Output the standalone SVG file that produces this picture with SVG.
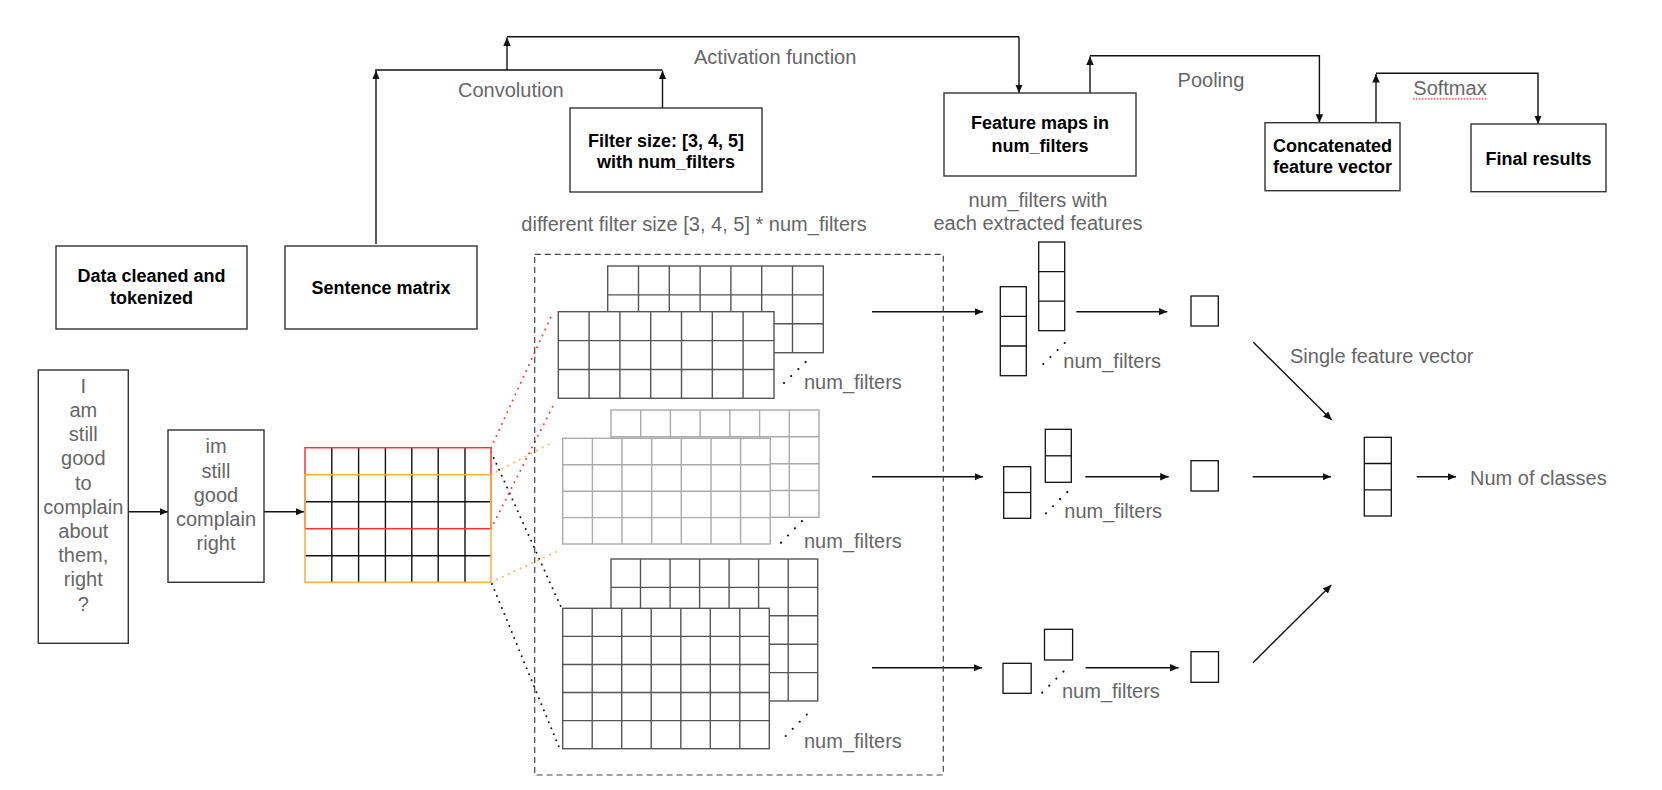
<svg xmlns="http://www.w3.org/2000/svg" width="1662" height="790" viewBox="0 0 1662 790">
<defs>
<marker id="ah" markerWidth="9" markerHeight="8" refX="8.5" refY="3.75" orient="auto" markerUnits="userSpaceOnUse">
<path d="M0,0 L8.5,3.75 L0,7.5 z" fill="#111"/>
</marker>
<style>
.box{fill:#fff;stroke:#333;stroke-width:1.4}
.b{font-family:"Liberation Sans",Arial,Helvetica,sans-serif;font-size:18px;font-weight:bold;fill:#000;text-anchor:middle}
.g{font-family:"Liberation Sans",Arial,Helvetica,sans-serif;font-size:20px;fill:#666}
.gm{font-family:"Liberation Sans",Arial,Helvetica,sans-serif;font-size:20px;fill:#666;text-anchor:middle}
.c{fill:none;stroke:#111;stroke-width:1.4}
.ca{fill:none;stroke:#111;stroke-width:1.4;marker-end:url(#ah)}
.cell{fill:#fff;stroke:#111;stroke-width:1.3}
.gd{fill:#fff;stroke:#555;stroke-width:1.4}
.gl{fill:#fff;stroke:#aaa;stroke-width:1.4}
.dots{fill:none;stroke:#111;stroke-width:2.2;stroke-linecap:round;stroke-dasharray:0 10}
.dr{fill:none;stroke:#f33;stroke-width:2;stroke-linecap:round;stroke-dasharray:0 6.5}
.do{fill:none;stroke:#fbb040;stroke-width:2;stroke-linecap:round;stroke-dasharray:0 6.5}
.dk{fill:none;stroke:#111;stroke-width:2;stroke-linecap:round;stroke-dasharray:0 6.5}
</style>
</defs>
<rect width="1662" height="790" fill="#fff"/>

<g id="connectors">
<!-- convolution -->
<path class="c" d="M375,70 H662.5"/>
<path class="ca" d="M376,244 V70.7"/>
<path class="ca" d="M662.5,108 V70.7"/>
<!-- activation -->
<path class="c" d="M507,36.7 H1019"/>
<path class="ca" d="M507,70 V37.4"/>
<path class="ca" d="M1019,36.7 V93"/>
<!-- pooling -->
<path class="ca" d="M1090,93 V56.4"/>
<path class="ca" d="M1090,55.7 H1319.4 V122.7"/>
<!-- softmax -->
<path class="ca" d="M1376,122.7 V74"/>
<path class="ca" d="M1376,73.3 H1538 V124"/>
<!-- input arrows -->
<path class="ca" d="M128.6,511.7 H168"/>
<path class="ca" d="M264,511.7 H304"/>
<!-- filter to feature maps -->
<path class="ca" d="M872,311.7 H983"/>
<path class="ca" d="M872,476.7 H983"/>
<path class="ca" d="M872,667.7 H982"/>
<!-- pooling arrows -->
<path class="ca" d="M1076.3,311.7 H1167.3"/>
<path class="ca" d="M1085.3,476.7 H1168.7"/>
<path class="ca" d="M1085.5,667.7 H1178.5"/>
<!-- to concat vector -->
<path class="ca" d="M1253.3,342.3 L1331.7,420"/>
<path class="ca" d="M1252.7,476.7 H1331"/>
<path class="ca" d="M1253,662.7 L1331.3,585"/>
<path class="ca" d="M1416.7,476.7 H1456"/>
<!-- dotted projections -->
<path class="dk" d="M491,452 L561,607"/>
<path class="dk" d="M492,584 L559,747"/>
<path class="dr" d="M491,447.7 L553,312.5"/>
<path class="dr" d="M491,528.7 L554,404"/>
<path class="do" d="M491,474.7 L554,441.5"/>
<path class="do" d="M491,582.3 L556,552"/>
</g>

<g id="labels">
<text class="g" x="458" y="97">Convolution</text>
<text class="g" x="694" y="64">Activation function</text>
<text class="g" x="1177.6" y="86.7">Pooling</text>
<text class="g" x="1413.3" y="95">Softmax</text>
<path d="M1413,98.8 H1488" fill="none" stroke="#f33" stroke-width="1.2" stroke-dasharray="1.5 1.5"/>
<text class="gm" x="694" y="230.7">different filter size [3, 4, 5] * num_filters</text>
<text class="gm" x="1038" y="206.7">num_filters with</text>
<text class="gm" x="1038" y="230">each extracted features</text>
<text class="g" x="1290" y="363.3">Single feature vector</text>
<text class="g" x="1470" y="485">Num of classes</text>
</g>

<g id="node-data-cleaned">
<rect class="box" x="56" y="246" width="191" height="83"/>
<text class="b" x="151.5" y="282">Data cleaned and</text>
<text class="b" x="151.5" y="304">tokenized</text>
</g>
<g id="node-sentence-matrix">
<rect class="box" x="285" y="246" width="192" height="83"/>
<text class="b" x="381" y="294.3">Sentence matrix</text>
</g>
<g id="node-filter-size">
<rect class="box" x="570" y="108" width="192" height="84"/>
<text class="b" x="666" y="146.7">Filter size: [3, 4, 5]</text>
<text class="b" x="666" y="168.3">with num_filters</text>
</g>
<g id="node-feature-maps">
<rect class="box" x="944" y="93" width="192" height="83"/>
<text class="b" x="1040" y="129.3">Feature maps in</text>
<text class="b" x="1040" y="151.7">num_filters</text>
</g>
<g id="node-concatenated">
<rect class="box" x="1265" y="122.7" width="135" height="68"/>
<text class="b" x="1332.5" y="151.7">Concatenated</text>
<text class="b" x="1332.5" y="173.3">feature vector</text>
</g>
<g id="node-final-results">
<rect class="box" x="1471" y="124" width="135" height="67.7"/>
<text class="b" x="1538.5" y="165">Final results</text>
</g>

<g id="node-raw-sentence">
<rect class="box" x="38.3" y="370" width="90" height="273.3"/>
<g class="gm">
<text x="83.3" y="392.7">I</text>
<text x="83.3" y="416.9">am</text>
<text x="83.3" y="441.1">still</text>
<text x="83.3" y="465.3">good</text>
<text x="83.3" y="489.5">to</text>
<text x="83.3" y="513.7">complain</text>
<text x="83.3" y="537.9">about</text>
<text x="83.3" y="562.1">them,</text>
<text x="83.3" y="586.3">right</text>
<text x="83.3" y="610.5">?</text>
</g>
</g>
<g id="node-tokens">
<rect class="box" x="168" y="430" width="96" height="152.3"/>
<g class="gm">
<text x="216" y="453.3">im</text>
<text x="216" y="477.5">still</text>
<text x="216" y="501.7">good</text>
<text x="216" y="525.9">complain</text>
<text x="216" y="550.1">right</text>
</g>
</g>

<g id="node-embedding-matrix">
<rect x="305" y="447.7" width="186" height="134.6" fill="#fff"/>
<path d="M331.8,447.7V582.3M358.6,447.7V582.3M385.4,447.7V582.3M411.8,447.7V582.3M438.2,447.7V582.3M465,447.7V582.3M305,501.7H491M305,555.7H491" fill="none" stroke="#111" stroke-width="1.4"/>
<rect x="305" y="447.7" width="186" height="81" fill="none" stroke="#f33" stroke-width="1.5"/>
<rect x="305" y="474.7" width="186" height="107.6" fill="none" stroke="#fbb040" stroke-width="1.5"/>
</g>

<g id="filters-box">
<rect x="534.7" y="254.3" width="408.6" height="520.7" fill="none" stroke="#444" stroke-width="1.2" stroke-dasharray="6 4"/>
</g>

<g id="node-filter-3">
<rect class="gd" x="607.7" y="266" width="215.6" height="86.7"/>
<path d="M638.5,266V352.7M669.3,266V352.7M700.1,266V352.7M730.9,266V352.7M761.7,266V352.7M792.5,266V352.7M607.7,294.9H823.3M607.7,323.8H823.3" fill="none" stroke="#555" stroke-width="1.4"/>
<rect class="gd" x="558.3" y="311.7" width="215.7" height="86.6"/>
<path d="M589.1,311.7V398.3M619.9,311.7V398.3M650.7,311.7V398.3M681.5,311.7V398.3M712.3,311.7V398.3M743.1,311.7V398.3M558.3,340.6H774M558.3,369.5H774" fill="none" stroke="#555" stroke-width="1.4"/>
<path class="dots" d="M784,383 L806,361.7"/>
<text class="g" x="804" y="389">num_filters</text>
</g>

<g id="node-filter-4">
<rect class="gl" x="611" y="410" width="208" height="107.3"/>
<path d="M640.7,410V517.3M670.4,410V517.3M700.1,410V517.3M729.9,410V517.3M759.6,410V517.3M789.3,410V517.3M611,436.8H819M611,463.7H819M611,490.5H819" fill="none" stroke="#aaa" stroke-width="1.4"/>
<rect class="gl" x="562.7" y="438.3" width="207.6" height="105.7"/>
<path d="M592.4,438.3V544M622,438.3V544M651.7,438.3V544M681.3,438.3V544M711,438.3V544M740.6,438.3V544M562.7,464.7H770.3M562.7,491.2H770.3M562.7,517.6H770.3" fill="none" stroke="#aaa" stroke-width="1.4"/>
<path class="dots" d="M781,542.7 L803,520"/>
<text class="g" x="804" y="548">num_filters</text>
</g>

<g id="node-filter-5">
<rect class="gd" x="611" y="559" width="206.7" height="142"/>
<path d="M640.5,559V701M670.1,559V701M699.6,559V701M729.1,559V701M758.6,559V701M788.2,559V701M611,587.4H817.7M611,615.8H817.7M611,644.2H817.7M611,672.6H817.7" fill="none" stroke="#555" stroke-width="1.4"/>
<rect class="gd" x="562.7" y="608.3" width="206.6" height="140.4"/>
<path d="M592.2,608.3V748.7M621.7,608.3V748.7M651.2,608.3V748.7M680.8,608.3V748.7M710.3,608.3V748.7M739.8,608.3V748.7M562.7,636.4H769.3M562.7,664.5H769.3M562.7,692.5H769.3M562.7,720.6H769.3" fill="none" stroke="#555" stroke-width="1.4"/>
<path class="dots" d="M785.7,736 L807.3,714"/>
<text class="g" x="804" y="748.3">num_filters</text>
</g>

<g id="node-feature-maps-1">
<rect class="cell" x="1000.3" y="286.7" width="26" height="89"/>
<path d="M1000.3,316.4H1026.3M1000.3,346H1026.3" stroke="#111" stroke-width="1.3"/>
<rect class="cell" x="1038.7" y="242" width="26" height="88.7"/>
<path d="M1038.7,271.6H1064.7M1038.7,301.1H1064.7" stroke="#111" stroke-width="1.3"/>
<path class="dots" d="M1043.3,364 L1066,341.7"/>
<text class="g" x="1063.3" y="368.3">num_filters</text>
</g>
<g id="node-feature-maps-2">
<rect class="cell" x="1003.7" y="466.7" width="27" height="51.6"/>
<path d="M1003.7,492.5H1030.7" stroke="#111" stroke-width="1.3"/>
<rect class="cell" x="1045.3" y="429.3" width="26" height="53"/>
<path d="M1045.3,455.8H1071.3" stroke="#111" stroke-width="1.3"/>
<path class="dots" d="M1046,513.3 L1067.7,491.7"/>
<text class="g" x="1064.3" y="518.3">num_filters</text>
</g>
<g id="node-feature-maps-3">
<rect class="cell" x="1003" y="663.3" width="28.2" height="30"/>
<rect class="cell" x="1044.5" y="629.3" width="28.1" height="30.7"/>
<path class="dots" d="M1042.2,692.7 L1064.3,670.7"/>
<text class="g" x="1062" y="698.3">num_filters</text>
</g>

<g id="node-pooled-1"><rect class="cell" x="1191" y="296" width="27.3" height="30"/></g>
<g id="node-pooled-2"><rect class="cell" x="1191" y="460.7" width="27.3" height="30.3"/></g>
<g id="node-pooled-3"><rect class="cell" x="1191" y="651.7" width="27.5" height="30.6"/></g>

<g id="node-single-vector">
<rect class="cell" x="1364.3" y="437.3" width="27" height="78.7"/>
<path d="M1364.3,463.5H1391.3M1364.3,489.8H1391.3" stroke="#111" stroke-width="1.3"/>
</g>
</svg>
